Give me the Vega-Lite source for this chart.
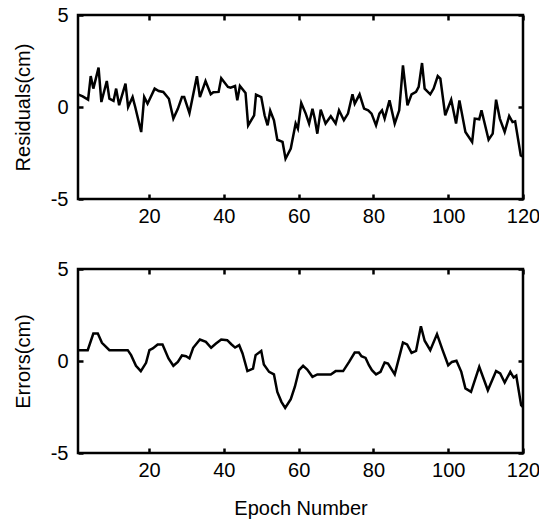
{
  "$schema": "https://vega.github.io/schema/vega-lite/v6.json",
  "padding": {"left": 11, "top": 3, "right": 0, "bottom": 0},
  "datasets": {
    "res": [
      {"e":1.0,"v":0.69},{"e":2.25,"v":0.58},{"e":3.7,"v":0.4},{"e":4.4,"v":1.68},{"e":5.1,"v":1.0},
      {"e":6.5,"v":2.14},{"e":7.25,"v":0.27},{"e":8.7,"v":1.41},{"e":9.4,"v":0.45},{"e":10.5,"v":0.33},
      {"e":11.2,"v":1.0},{"e":12.0,"v":0.1},{"e":13.7,"v":1.27},{"e":14.4,"v":0.0},{"e":15.6,"v":0.54},
      {"e":16.3,"v":0.0},{"e":17.9,"v":-1.36},{"e":18.7,"v":0.54},{"e":19.6,"v":0.18},{"e":21.5,"v":1.0},
      {"e":22.6,"v":0.87},{"e":23.8,"v":0.82},{"e":25.3,"v":0.45},{"e":26.5,"v":-0.63},{"e":27.7,"v":-0.1},
      {"e":28.8,"v":0.54},{"e":29.4,"v":0.54},{"e":30.8,"v":-0.33},{"e":32.8,"v":1.67},{"e":33.6,"v":0.54},
      {"e":35.1,"v":1.41},{"e":36.5,"v":0.69},{"e":37.2,"v":0.8},{"e":38.6,"v":0.82},{"e":39.3,"v":1.56},
      {"e":41.1,"v":1.09},{"e":41.8,"v":1.05},{"e":43.0,"v":1.14},{"e":43.6,"v":0.36},{"e":44.3,"v":1.14},
      {"e":45.8,"v":0.76},{"e":46.5,"v":-1.0},{"e":48.1,"v":-0.45},{"e":48.6,"v":0.67},{"e":50.0,"v":0.54},
      {"e":50.9,"v":-0.45},{"e":51.7,"v":-1.0},{"e":52.4,"v":-0.2},{"e":53.4,"v":-0.72},{"e":54.3,"v":-1.78},
      {"e":55.7,"v":-1.9},{"e":56.5,"v":-2.81},{"e":57.9,"v":-2.26},{"e":59.2,"v":-0.9},{"e":59.8,"v":-1.18},
      {"e":60.7,"v":0.22},{"e":61.9,"v":-0.36},{"e":62.8,"v":-0.9},{"e":63.7,"v":-0.09},{"e":64.3,"v":-0.63},
      {"e":65.0,"v":-1.45},{"e":65.9,"v":-0.14},{"e":67.2,"v":-0.9},{"e":68.6,"v":-0.5},{"e":69.9,"v":-0.9},
      {"e":70.8,"v":-0.18},{"e":72.1,"v":-0.72},{"e":73.2,"v":-0.36},{"e":74.4,"v":0.69},{"e":75.0,"v":0.18},
      {"e":76.3,"v":0.69},{"e":77.5,"v":-0.09},{"e":78.6,"v":-0.18},{"e":79.5,"v":-0.36},{"e":80.7,"v":-1.0},
      {"e":81.6,"v":-0.36},{"e":82.3,"v":-0.18},{"e":83.0,"v":-0.63},{"e":84.3,"v":0.36},{"e":85.7,"v":-0.9},
      {"e":86.9,"v":-0.18},{"e":87.9,"v":2.26},{"e":89.1,"v":0.09},{"e":90.2,"v":0.69},{"e":91.4,"v":0.82},
      {"e":92.1,"v":1.09},{"e":93.0,"v":2.39},{"e":93.7,"v":1.0},{"e":95.2,"v":0.69},{"e":96.1,"v":1.0},
      {"e":97.2,"v":1.68},{"e":97.9,"v":1.54},{"e":99.2,"v":-0.45},{"e":100.8,"v":0.4},{"e":102.1,"v":-0.9},
      {"e":103.0,"v":0.36},{"e":104.6,"v":-1.36},{"e":106.4,"v":-1.9},{"e":107.1,"v":-0.63},{"e":108.3,"v":-0.67},
      {"e":108.9,"v":-0.18},{"e":110.8,"v":-1.78},{"e":111.9,"v":-1.45},{"e":112.8,"v":0.4},{"e":113.8,"v":-0.63},
      {"e":115.1,"v":-1.36},{"e":116.3,"v":-0.49},{"e":117.2,"v":-0.82},{"e":117.9,"v":-0.78},{"e":119.4,"v":-2.63},
      {"e":120.0,"v":-2.7}
    ],
    "err": [
      {"e":1.0,"v":0.59},{"e":3.6,"v":0.59},{"e":5.1,"v":1.49},{"e":6.3,"v":1.49},{"e":7.4,"v":0.99},
      {"e":9.4,"v":0.59},{"e":14.3,"v":0.59},{"e":15.2,"v":0.32},{"e":16.5,"v":-0.26},{"e":17.8,"v":-0.55},
      {"e":19.2,"v":-0.1},{"e":20.1,"v":0.59},{"e":21.0,"v":0.68},{"e":22.3,"v":0.9},{"e":23.6,"v":0.9},
      {"e":25.2,"v":0.14},{"e":26.5,"v":-0.26},{"e":27.7,"v":-0.05},{"e":28.8,"v":0.3},{"e":29.9,"v":0.26},
      {"e":30.8,"v":0.14},{"e":31.8,"v":0.72},{"e":33.6,"v":1.17},{"e":35.2,"v":1.04},{"e":36.6,"v":0.72},
      {"e":37.9,"v":0.95},{"e":39.3,"v":1.17},{"e":40.9,"v":1.13},{"e":42.0,"v":0.91},{"e":43.0,"v":0.73},
      {"e":44.1,"v":0.86},{"e":45.0,"v":0.41},{"e":46.3,"v":-0.55},{"e":47.8,"v":-0.41},{"e":48.5,"v":0.32},
      {"e":50.0,"v":0.55},{"e":50.7,"v":-0.19},{"e":52.1,"v":-0.59},{"e":53.4,"v":-0.73},{"e":54.3,"v":-1.68},
      {"e":55.4,"v":-2.22},{"e":56.4,"v":-2.55},{"e":57.9,"v":-2.07},{"e":59.0,"v":-1.4},{"e":60.1,"v":-0.5},
      {"e":61.2,"v":-0.26},{"e":62.3,"v":-0.46},{"e":63.7,"v":-0.86},{"e":65.0,"v":-0.73},{"e":68.6,"v":-0.73},
      {"e":69.9,"v":-0.55},{"e":71.9,"v":-0.55},{"e":73.5,"v":-0.05},{"e":75.0,"v":0.46},{"e":76.1,"v":0.46},
      {"e":76.8,"v":0.26},{"e":77.9,"v":0.17},{"e":78.8,"v":-0.23},{"e":79.6,"v":-0.5},{"e":80.7,"v":-0.73},
      {"e":81.9,"v":-0.59},{"e":83.0,"v":-0.08},{"e":83.9,"v":-0.14},{"e":85.7,"v":-0.73},{"e":87.9,"v":1.0},
      {"e":89.0,"v":0.9},{"e":90.2,"v":0.44},{"e":91.4,"v":0.55},{"e":92.7,"v":1.89},{"e":93.7,"v":1.1},
      {"e":95.2,"v":0.59},{"e":97.0,"v":1.46},{"e":98.5,"v":0.59},{"e":100.0,"v":-0.23},{"e":101.0,"v":-0.05},
      {"e":102.2,"v":0.01},{"e":103.5,"v":-0.59},{"e":104.6,"v":-1.49},{"e":106.1,"v":-1.68},{"e":108.3,"v":-0.32},
      {"e":110.6,"v":-1.59},{"e":112.8,"v":-0.55},{"e":113.9,"v":-0.68},{"e":115.1,"v":-1.17},{"e":116.6,"v":-0.59},
      {"e":117.5,"v":-0.9},{"e":118.2,"v":-0.8},{"e":119.5,"v":-2.4},{"e":120.0,"v":-2.5}
    ]
  },
  "config": {
    "font": "Liberation Sans",
    "view": {"stroke": "black", "strokeWidth": 2.5},
    "axis": {
      "grid": false,
      "labelFont": "Liberation Sans",
      "titleFont": "Liberation Sans",
      "labelFontSize": 20,
      "titleFontSize": 20,
      "titleFontWeight": "normal",
      "labelColor": "black",
      "titleColor": "black",
      "domain": false,
      "tickColor": "black",
      "tickWidth": 2.5,
      "tickSize": 5,
      "offset": -5,
      "labelExpr": "'' + datum.value"
    }
  },
  "spacing": 29,
  "vconcat": [
    {
      "width": 445,
      "height": 184,
      "resolve": {"axis": {"x": "independent", "y": "independent"}},
      "layer": [
        {
          "data": {"name": "res"},
          "mark": {"type": "line", "color": "black", "strokeWidth": 2.5, "strokeJoin": "miter"},
          "encoding": {
            "x": {"field": "e", "type": "quantitative", "scale": {"domain": [1, 120], "nice": false, "zero": false},
                  "axis": {"orient": "bottom", "values": [20, 40, 60, 80, 100, 120], "title": null, "labelPadding": 7, "labelFlush": false}},
            "y": {"field": "v", "type": "quantitative", "scale": {"domain": [-5, 5], "nice": false},
                  "axis": {"orient": "left", "values": [-5, 0, 5], "title": "Residuals(cm)", "labelPadding": 10, "titlePadding": 17}}
          }
        },
        {
          "mark": {"type": "rule", "color": "black", "strokeWidth": 2.5},
          "encoding": {
            "x": {"datum": 1, "type": "quantitative", "axis": {"orient": "top", "values": [20, 40, 60, 80, 100, 120], "labels": false, "title": null}},
            "x2": {"datum": 120},
            "y": {"datum": 0, "type": "quantitative", "axis": {"orient": "right", "values": [-5, 0, 5], "labels": false, "title": null}}
          }
        }
      ]
    },
    {
      "width": 445,
      "height": 184,
      "resolve": {"axis": {"x": "independent", "y": "independent"}},
      "layer": [
        {
          "data": {"name": "err"},
          "mark": {"type": "line", "color": "black", "strokeWidth": 2.5, "strokeJoin": "miter"},
          "encoding": {
            "x": {"field": "e", "type": "quantitative", "scale": {"domain": [1, 120], "nice": false, "zero": false},
                  "axis": {"orient": "bottom", "values": [20, 40, 60, 80, 100, 120], "title": "Epoch Number", "labelPadding": 7, "labelFlush": false, "titlePadding": 18}},
            "y": {"field": "v", "type": "quantitative", "scale": {"domain": [-5, 5], "nice": false},
                  "axis": {"orient": "left", "values": [-5, 0, 5], "title": "Errors(cm)", "labelPadding": 10, "titlePadding": 17}}
          }
        },
        {
          "mark": {"type": "rule", "color": "black", "strokeWidth": 2.5},
          "encoding": {
            "x": {"datum": 1, "type": "quantitative", "axis": {"orient": "top", "values": [20, 40, 60, 80, 100, 120], "labels": false, "title": null}},
            "x2": {"datum": 120},
            "y": {"datum": 0, "type": "quantitative", "axis": {"orient": "right", "values": [-5, 0, 5], "labels": false, "title": null}}
          }
        }
      ]
    }
  ]
}
